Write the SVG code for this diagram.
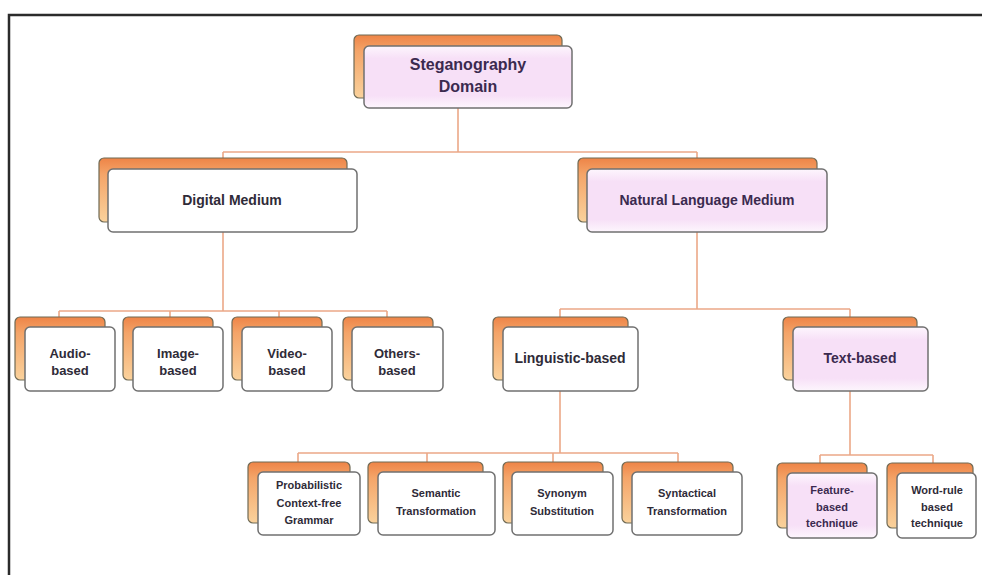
<svg xmlns="http://www.w3.org/2000/svg" width="982" height="575" viewBox="0 0 982 575">
<defs>
<linearGradient id="og" x1="0" y1="0" x2="0" y2="1">
<stop offset="0" stop-color="#ee8447"/>
<stop offset="0.25" stop-color="#f4a468"/>
<stop offset="1" stop-color="#fad29c"/>
</linearGradient>
<linearGradient id="pk" x1="0" y1="0" x2="0" y2="1">
<stop offset="0" stop-color="#fdf6fd"/>
<stop offset="0.2" stop-color="#f7e0f7"/>
<stop offset="0.8" stop-color="#f7e0f7"/>
<stop offset="1" stop-color="#fdf6fd"/>
</linearGradient>
</defs>
<style>
.bk{fill:url(#og);stroke:#6f6a55;stroke-width:1.2}
.fr{fill:#ffffff;stroke:#707070;stroke-width:1.5}
.frp{fill:url(#pk);stroke:#707070;stroke-width:1.5}
.t{font-family:"Liberation Sans",Arial,sans-serif;font-weight:bold;fill:#2f2b38;text-anchor:middle}
.tp{fill:#3b2a4f}
.c{fill:none;stroke:#eba888;stroke-width:1.6}
.frame{fill:none;stroke:#2b2b2b;stroke-width:2.5}
</style>
<rect width="982" height="575" fill="#ffffff"/>
<path class="frame" d="M9,575 V15 H982"/>

<g id="connectors">
<path class="c" d="M458,108 V152 M223,152 H697 M223,152 V158 M697,152 V158"/>
<path class="c" d="M223,232 V311 M59,311 H387 M59,311 V317 M170,311 V317 M279,311 V317 M387,311 V317"/>
<path class="c" d="M697,232 V309 M560,309 H850 M560,309 V317 M850,309 V317"/>
<path class="c" d="M560,391 V453 M298,453 H678 M298,453 V462 M427,453 V462 M553,453 V462 M678,453 V462"/>
<path class="c" d="M850,391 V455 M820,455 H933 M820,455 V463 M933,455 V463"/>
</g>

<g id="root">
<rect class="bk" x="354" y="35" width="208" height="63" rx="5"/>
<rect class="frp" x="364" y="46" width="208" height="62" rx="5"/>
<text class="t tp" font-size="16" x="468" y="70">Steganography</text>
<text class="t tp" font-size="16" x="468" y="92">Domain</text>
</g>

<g id="digital">
<rect class="bk" x="99" y="158" width="248" height="64" rx="5"/>
<rect class="fr" x="108" y="169" width="249" height="63" rx="5"/>
<text class="t" font-size="14" x="232" y="205">Digital Medium</text>
</g>

<g id="natural">
<rect class="bk" x="578" y="158" width="239" height="64" rx="5"/>
<rect class="frp" x="587" y="169" width="240" height="63" rx="5"/>
<text class="t tp" font-size="14" x="707" y="205">Natural Language Medium</text>
</g>

<g id="audio">
<rect class="bk" x="15" y="317" width="90" height="63" rx="5"/>
<rect class="fr" x="25" y="327" width="90" height="64" rx="5"/>
<text class="t" font-size="13" x="70" y="358">Audio-</text>
<text class="t" font-size="13" x="70" y="375">based</text>
</g>

<g id="image">
<rect class="bk" x="123" y="317" width="90" height="63" rx="5"/>
<rect class="fr" x="133" y="327" width="90" height="64" rx="5"/>
<text class="t" font-size="13" x="178" y="358">Image-</text>
<text class="t" font-size="13" x="178" y="375">based</text>
</g>

<g id="video">
<rect class="bk" x="232" y="317" width="90" height="63" rx="5"/>
<rect class="fr" x="242" y="327" width="90" height="64" rx="5"/>
<text class="t" font-size="13" x="287" y="358">Video-</text>
<text class="t" font-size="13" x="287" y="375">based</text>
</g>

<g id="others">
<rect class="bk" x="343" y="317" width="90" height="63" rx="5"/>
<rect class="fr" x="352" y="327" width="91" height="64" rx="5"/>
<text class="t" font-size="13" x="397" y="358">Others-</text>
<text class="t" font-size="13" x="397" y="375">based</text>
</g>

<g id="linguistic">
<rect class="bk" x="493" y="317" width="135" height="63" rx="5"/>
<rect class="fr" x="503" y="327" width="135" height="64" rx="5"/>
<text class="t" font-size="14" x="570" y="363">Linguistic-based</text>
</g>

<g id="textbased">
<rect class="bk" x="783" y="317" width="134" height="63" rx="5"/>
<rect class="frp" x="793" y="327" width="135" height="64" rx="5"/>
<text class="t tp" font-size="14" x="860" y="363">Text-based</text>
</g>

<g id="pcfg">
<rect class="bk" x="248" y="462" width="102" height="61" rx="5"/>
<rect class="fr" x="258" y="472" width="102" height="63" rx="5"/>
<text class="t" font-size="11" x="309" y="489">Probabilistic</text>
<text class="t" font-size="11" x="309" y="507">Context-free</text>
<text class="t" font-size="11" x="309" y="524">Grammar</text>
</g>

<g id="semantic">
<rect class="bk" x="368" y="462" width="115" height="61" rx="5"/>
<rect class="fr" x="378" y="472" width="117" height="63" rx="5"/>
<text class="t" font-size="11" x="436" y="497">Semantic</text>
<text class="t" font-size="11" x="436" y="515">Transformation</text>
</g>

<g id="synonym">
<rect class="bk" x="503" y="462" width="100" height="61" rx="5"/>
<rect class="fr" x="512" y="472" width="101" height="63" rx="5"/>
<text class="t" font-size="11" x="562" y="497">Synonym</text>
<text class="t" font-size="11" x="562" y="515">Substitution</text>
</g>

<g id="syntactical">
<rect class="bk" x="622" y="462" width="111" height="61" rx="5"/>
<rect class="fr" x="632" y="472" width="110" height="63" rx="5"/>
<text class="t" font-size="11" x="687" y="497">Syntactical</text>
<text class="t" font-size="11" x="687" y="515">Transformation</text>
</g>

<g id="feature">
<rect class="bk" x="777" y="463" width="90" height="65" rx="5"/>
<rect class="frp" x="787" y="473" width="90" height="65" rx="5"/>
<text class="t tp" font-size="11" x="832" y="494">Feature-</text>
<text class="t tp" font-size="11" x="832" y="511">based</text>
<text class="t tp" font-size="11" x="832" y="527">technique</text>
</g>

<g id="wordrule">
<rect class="bk" x="887" y="463" width="86" height="65" rx="5"/>
<rect class="fr" x="897" y="473" width="79" height="65" rx="5"/>
<text class="t" font-size="11" x="937" y="494">Word-rule</text>
<text class="t" font-size="11" x="937" y="511">based</text>
<text class="t" font-size="11" x="937" y="527">technique</text>
</g>
</svg>
